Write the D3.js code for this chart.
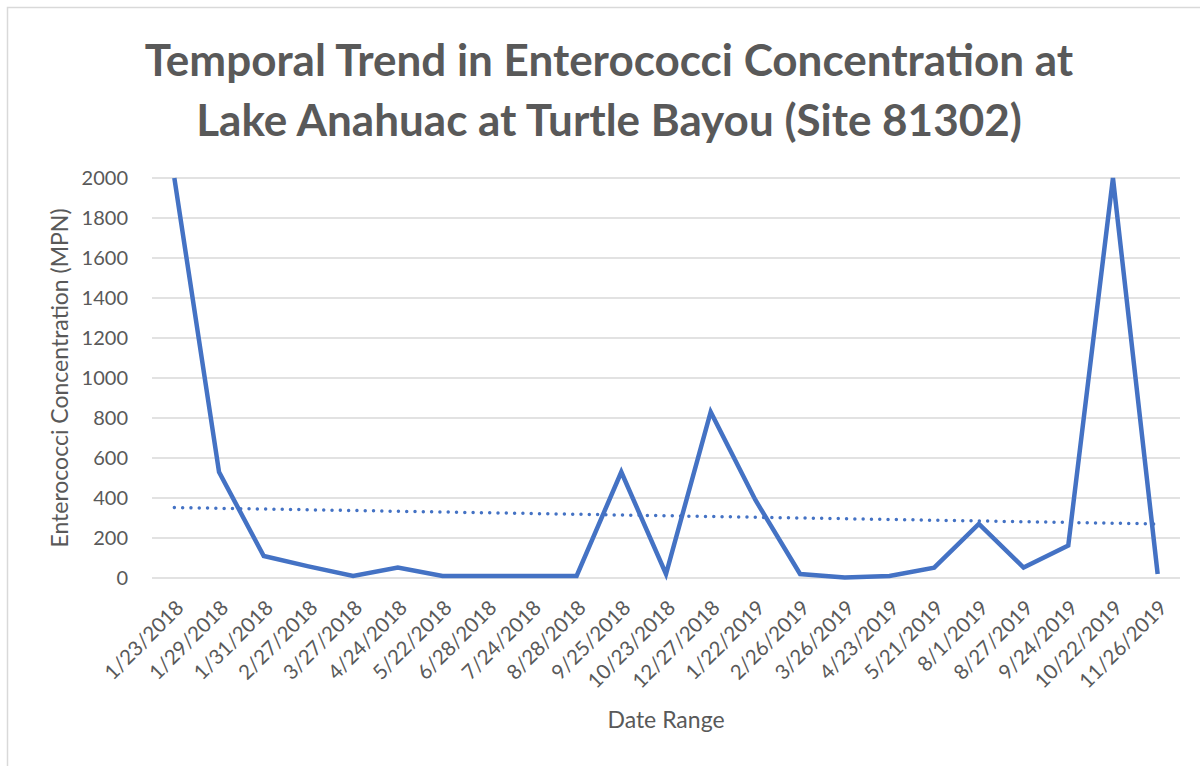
<!DOCTYPE html>
<html>
  <head>
    <meta charset="UTF-8">
    <title>Enterococci trend</title>
    <style type="text/css">
      body { margin: 0; background-color: #fff; }
      svg { display: block; font-family: Lato, "Open Sans", sans-serif; }
      .axis text { fill: #595959; font-size: 20px; font-family: Lato, "Open Sans", sans-serif; }
      .xaxis text { font-size: 20.5px; }
      .grid line { stroke: #d9d9d9; stroke-width: 1.5px; }
      .title { fill: #595959; font-size: 44px; font-weight: bold; }
      .axisLabel { fill: #595959; font-size: 23px; }
    </style>
    <script src="https://cdn.jsdelivr.net/npm/d3@7"></script>
  </head>
  <body>
    <div id="chart"></div>
    <script type="text/javascript">
      var width = 1200, height = 766;

      // sample dates (category axis)
      var dates = ["1/23/2018", "1/29/2018", "1/31/2018", "2/27/2018", "3/27/2018", "4/24/2018",
        "5/22/2018", "6/28/2018", "7/24/2018", "8/28/2018", "9/25/2018", "10/23/2018",
        "12/27/2018", "1/22/2019", "2/26/2019", "3/26/2019", "4/23/2019", "5/21/2019",
        "8/1/2019", "8/27/2019", "9/24/2019", "10/22/2019", "11/26/2019"];
      // enterococci, MPN
      var values = [2000, 530, 110, 58, 10, 52, 10, 10, 10, 10, 530, 20,
        830, 390, 20, 2, 10, 52, 270, 52, 163, 2000, 20];
      var yTicks = [0, 200, 400, 600, 800, 1000, 1200, 1400, 1600, 1800, 2000];
      var titleLines = ["Temporal Trend in Enterococci Concentration at",
        "Lake Anahuac at Turtle Bayou (Site 81302)"];

      var plot = { left: 152, right: 1180, top: 178, bottom: 578 };

      var svg = d3.select("#chart").append("svg")
        .attr("width", width).attr("height", height);

      // chart frame
      svg.append("rect")
        .attr("x", 7.5).attr("y", 7.5)
        .attr("width", 1220).attr("height", 800)
        .attr("fill", "#fff").attr("stroke", "#d9d9d9").attr("stroke-width", 1.5);

      var xScale = d3.scalePoint().domain(dates).range([plot.left, plot.right]).padding(0.5);
      var yScale = d3.scaleLinear().domain([0, 2000]).range([plot.bottom, plot.top]);

      // gridlines
      svg.append("g").attr("class", "grid")
        .selectAll("line").data(yTicks).enter().append("line")
        .attr("x1", plot.left).attr("x2", plot.right)
        .attr("y1", function(d) { return yScale(d); })
        .attr("y2", function(d) { return yScale(d); });

      // y axis
      var yAxisG = svg.append("g").attr("class", "axis")
        .attr("transform", "translate(" + (plot.left - 12) + ",0)")
        .call(d3.axisLeft(yScale).tickValues(yTicks).tickFormat(d3.format("d")).tickSize(0).tickPadding(12));
      yAxisG.select(".domain").remove();

      // x axis
      var xAxisG = svg.append("g").attr("class", "axis xaxis")
        .attr("transform", "translate(0," + plot.bottom + ")")
        .call(d3.axisBottom(xScale).tickSize(0));
      xAxisG.select(".domain").remove();
      xAxisG.selectAll("text")
        .attr("text-anchor", "end")
        .attr("dy", "0.35em")
        .attr("transform", "translate(5,26) rotate(-45)")
        .attr("x", 0).attr("y", 0);

      // data line
      var line = d3.line()
        .x(function(d, i) { return xScale(dates[i]); })
        .y(function(d) { return yScale(d); });

      svg.append("path").datum(values)
        .attr("d", line)
        .attr("fill", "none")
        .attr("stroke", "#4472C4")
        .attr("stroke-width", 4.5)
        .attr("stroke-linejoin", "miter");

      // linear trendline
      var n = values.length;
      var mx = (n - 1) / 2, my = d3.mean(values);
      var sxy = d3.sum(values, function(d, i) { return (i - mx) * (d - my); });
      var sxx = d3.sum(values, function(d, i) { return (i - mx) * (i - mx); });
      var slope = sxy / sxx, icpt = my - slope * mx;
      var trend = [0, n - 1].map(function(i) { return { i: i, v: icpt + slope * i }; });

      svg.append("path").datum(trend)
        .attr("d", d3.line()
          .x(function(d) { return xScale(dates[d.i]); })
          .y(function(d) { return yScale(d.v); }))
        .attr("fill", "none")
        .attr("stroke", "#4472C4")
        .attr("stroke-width", 3.5)
        .attr("stroke-linecap", "round")
        .attr("stroke-dasharray", "0,8.3");

      // titles
      svg.selectAll(".title").data(titleLines).enter().append("text")
        .attr("class", "title")
        .attr("x", 609)
        .attr("y", function(d, i) { return 76 + i * 60; })
        .attr("text-anchor", "middle")
        .text(function(d) { return d; });

      svg.append("text").attr("class", "axisLabel")
        .attr("x", (plot.left + plot.right) / 2).attr("y", 728)
        .attr("text-anchor", "middle")
        .text("Date Range");

      svg.append("text").attr("class", "axisLabel")
        .attr("transform", "translate(68," + ((plot.top + plot.bottom) / 2) + ") rotate(-90)")
        .attr("text-anchor", "middle")
        .text("Enterococci Concentration (MPN)");
    </script>
  </body>
</html>
